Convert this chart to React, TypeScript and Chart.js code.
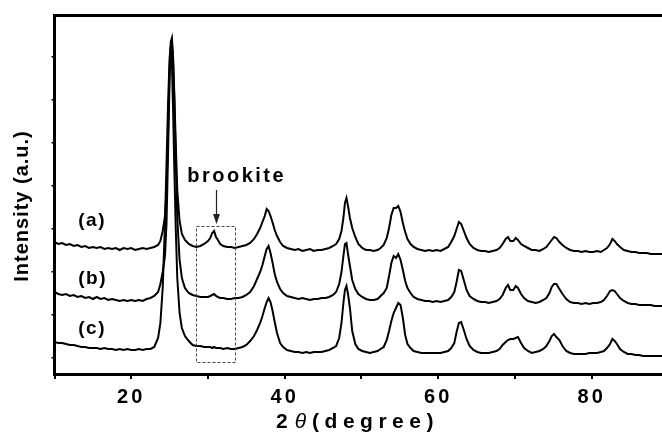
import React, { useEffect, useRef } from "react";
import { Chart, registerables } from "chart.js";

Chart.register(...registerables);

// 2θ positions (degrees) shared by all three patterns
const twoTheta = [
  10, 10.5, 11, 11.5, 12, 12.5, 13, 13.5, 14, 14.5, 15, 15.5, 16, 16.5, 17, 17.5, 18, 18.5, 19, 19.5, 20, 20.5, 21, 21.5, 22, 22.5, 23, 23.5,
  23.8, 24.1, 24.4, 24.6, 24.8, 25.0, 25.15, 25.3, 25.45, 25.6, 25.8, 26.0, 26.3, 26.6, 27.0, 27.5,
  28, 28.5, 29, 29.5, 30, 30.3, 30.55, 30.8, 31.05, 31.3, 31.6, 32, 32.5, 33, 33.5, 34, 34.5, 35, 35.5, 36, 36.4,
  36.8, 37.1, 37.4, 37.65, 37.9, 38.15, 38.4, 38.7, 39.0, 39.4, 39.8, 40.3,
  40.8, 41.3, 41.8, 42.3, 42.8, 43.3, 43.8, 44.3, 44.8, 45.3, 45.8, 46.3,
  46.7, 47.1, 47.4, 47.65, 47.85, 48.05, 48.25, 48.5, 48.8, 49.2, 49.6, 50.1,
  50.6, 51.1, 51.6, 52.1, 52.5,
  52.9, 53.3, 53.6, 53.9, 54.2, 54.5, 54.8, 55.1, 55.4, 55.7, 56.0, 56.4, 56.8,
  57.3, 57.8, 58.3, 58.8, 59.3, 59.8, 60.3, 60.8,
  61.3, 61.7, 62.1, 62.4, 62.7, 63.0, 63.3, 63.7, 64.1, 64.6,
  65.1, 65.6, 66.1, 66.6, 67.1, 67.6,
  68.0, 68.4, 68.8, 69.1, 69.4, 69.8, 70.1, 70.4, 70.8, 71.2, 71.7,
  72.2, 72.7, 73.2, 73.7,
  74.1, 74.5, 74.8, 75.1, 75.4, 75.8, 76.2, 76.7, 77.2,
  77.7, 78.2, 78.7, 79.2, 79.7, 80.2, 80.7, 81.2, 81.6,
  82.0, 82.4, 82.7, 83.0, 83.3, 83.7, 84.2, 84.7,
  85.2, 85.7, 86.2, 86.7, 87.2, 87.7, 88.2, 88.7, 89.2,
];

// pattern (a) (offset trace, arbitrary units)
const intensityA = [
  116, 114, 115, 113, 114, 112, 113, 111, 112, 110, 111, 110, 111, 109, 110, 109, 110, 108, 110, 109, 110, 108, 109, 110, 109, 110, 111, 113,
  117, 127, 142, 168, 225, 290, 316, 320, 302, 268, 215, 168, 137, 124, 118, 114,
  112, 111, 112, 114, 117, 120, 125, 127, 121, 118, 114, 112, 111, 111, 110, 111, 112, 113, 115, 119, 124,
  130, 136, 142, 149, 147, 142, 136, 128, 122, 116, 112, 110,
  109, 108, 109, 107, 108, 109, 107, 108, 108, 109, 110, 112,
  114, 119, 127, 140, 155, 160, 152, 140, 130, 121, 114, 110,
  108, 108, 107, 108, 110,
  113, 120, 130, 143, 150, 150, 152, 146, 135, 126, 119, 114, 111,
  109, 108, 107, 108, 107, 108, 107, 109,
  111, 116, 122, 129, 136, 134, 128, 120, 114, 110,
  108, 107, 107, 106, 107, 108,
  110, 114, 119, 121, 117, 117, 120, 118, 114, 112, 110,
  108, 108, 107, 109,
  111, 115, 118, 121, 120, 116, 113, 110, 108,
  107, 107, 106, 107, 106, 106, 107, 106, 108,
  110, 114, 119, 117, 114, 111, 108, 107,
  106, 106, 105, 105, 105, 104, 104, 104, 104,
];

// pattern (b)
const intensityB = [
  66, 64, 63, 64, 62, 63, 61, 62, 60, 61, 59, 61, 59, 60, 58, 59, 58, 57, 58, 57, 58, 57, 58, 57, 59, 60, 62, 66,
  74, 86, 102, 135, 205, 280, 310, 315, 298, 262, 200, 140, 98, 80, 70, 65,
  63, 62, 61, 61, 61, 62, 63, 64, 62, 61, 60, 60, 59, 59, 60, 60, 61, 63, 66, 72, 79,
  86, 93, 102, 109, 112, 105, 96, 84, 76, 69, 65, 62,
  61, 60, 59, 60, 59, 58, 59, 59, 60, 60, 61, 63,
  66, 74, 86, 102, 114, 115, 104, 92, 78, 69, 64, 61,
  59, 58, 58, 59, 62,
  65, 70, 82, 95, 102, 100, 104, 98, 88, 77, 70, 65, 61,
  59, 58, 57, 57, 56, 57, 56, 57,
  58, 61, 66, 76, 88, 87, 79, 68, 62, 59,
  57, 56, 56, 55, 56, 57,
  59, 63, 70, 73, 68, 68, 72, 70, 64, 60, 57,
  56, 55, 56, 58,
  60, 65, 71, 74, 74, 69, 64, 59, 56,
  55, 55, 54, 55, 54, 55, 55, 56, 58,
  62, 67, 68, 67, 64, 60, 57, 55,
  54, 54, 53, 53, 53, 53, 52, 52, 52,
];

// pattern (c)
const intensityC = [
  16, 15, 15, 14, 13, 13, 12, 11, 11, 10, 10, 10, 9, 10, 9, 9, 8, 9, 8, 9, 8, 8, 9, 8, 9, 9, 11, 20,
  35, 70, 135, 195, 255, 300, 312, 295, 250, 195, 130, 80, 45, 30, 22, 17,
  13, 12, 12, 11, 11, 11, 10, 11, 10, 10, 10, 9, 10, 9, 9, 10, 11, 13, 17, 22, 28,
  35, 42, 50, 56, 60, 56, 48, 36, 25, 15, 11, 8,
  7, 6, 6, 5, 6, 5, 6, 6, 6, 7, 8, 10,
  12, 20, 35, 55, 68, 72, 64, 50, 27, 14, 9, 7,
  6, 5, 6, 7, 9,
  11, 18, 27, 37, 45, 50, 55, 53, 40, 23, 14, 10, 7,
  6, 5, 5, 5, 5, 5, 5, 6,
  7, 10, 15, 26, 35, 36, 29, 19, 12, 8,
  6, 5, 5, 5, 6, 7,
  9, 13, 16, 18, 19, 19, 20, 21, 15, 10, 7,
  5, 6, 7, 9,
  12, 17, 22, 24, 21, 18, 12, 7, 5,
  4, 4, 4, 4, 5, 5, 5, 6, 7,
  10, 14, 19, 17, 14, 9, 6, 4,
  4, 3, 3, 2, 2, 2, 2, 2, 2,
];

const seriesLabels = ["(a)", "(b)", "(c)"];
const seriesLabelLevels = [137, 79.5, 29]; // intensity level where each label sits
const seriesLabelAngle = 13.1; // 2θ where labels start

const xTickLabels = [20, 40, 60, 80];
const xTitleParts = ["2", "θ", "(degree)"];
const yTitle = "Intensity (a.u.)";

const brookiteText = "brookite";
const brookiteBox = { from: 28.4, to: 33.55, low: -4, high: 132 };
const brookiteArrow = { at: 31.05, from: 168, to: 134 };
const brookiteTextAnchor = { at: 27.3, level: 176.5 };

const FONT = '"Liberation Sans", Arial, Helvetica, sans-serif';

const overlayPlugin = {
  id: "overlay",
  beforeDraw(chart: any) {
    (chart.ctx as any).letterSpacing = "3px";
  },
  afterDraw(chart: any) {
    const { ctx, chartArea } = chart;
    const x = chart.scales.x;
    const y = chart.scales.y;
    ctx.save();
    (ctx as any).letterSpacing = "0px";

    // top frame line
    ctx.strokeStyle = "#000";
    ctx.lineWidth = 3;
    ctx.beginPath();
    ctx.moveTo(chartArea.left - 1.5, chartArea.top);
    ctx.lineTo(chartArea.right, chartArea.top);
    ctx.stroke();

    // dashed box
    ctx.strokeStyle = "#444";
    ctx.lineWidth = 1;
    ctx.setLineDash([3, 2]);
    const bx0 = Math.round(x.getPixelForValue(brookiteBox.from)) + 0.5;
    const bx1 = Math.round(x.getPixelForValue(brookiteBox.to)) + 0.5;
    const by0 = Math.round(y.getPixelForValue(brookiteBox.high)) + 0.5;
    const by1 = Math.round(y.getPixelForValue(brookiteBox.low)) + 0.5;
    ctx.strokeRect(bx0, by0, bx1 - bx0, by1 - by0);
    ctx.setLineDash([]);

    // arrow
    const ax = Math.round(x.getPixelForValue(brookiteArrow.at)) + 0.5;
    const ay0 = y.getPixelForValue(brookiteArrow.from);
    const ay1 = y.getPixelForValue(brookiteArrow.to);
    ctx.strokeStyle = "#222";
    ctx.fillStyle = "#222";
    ctx.lineWidth = 1.2;
    ctx.beginPath();
    ctx.moveTo(ax, ay0);
    ctx.lineTo(ax, ay1 - 8);
    ctx.stroke();
    ctx.beginPath();
    ctx.moveTo(ax, ay1);
    ctx.lineTo(ax - 3.5, ay1 - 10);
    ctx.lineTo(ax + 3.5, ay1 - 10);
    ctx.closePath();
    ctx.fill();

    // brookite label
    ctx.fillStyle = "#000";
    ctx.font = `bold 20px ${FONT}`;
    (ctx as any).letterSpacing = "2.5px";
    ctx.textAlign = "left";
    ctx.textBaseline = "alphabetic";
    ctx.fillText(brookiteText, x.getPixelForValue(brookiteTextAnchor.at), y.getPixelForValue(brookiteTextAnchor.level));

    // series labels
    ctx.font = `bold 19px ${FONT}`;
    (ctx as any).letterSpacing = "1.5px";
    ctx.textBaseline = "middle";
    seriesLabels.forEach((lab, i) => {
      ctx.fillText(lab, x.getPixelForValue(seriesLabelAngle), y.getPixelForValue(seriesLabelLevels[i]));
    });

    // x title: 2θ (degree)
    ctx.textBaseline = "alphabetic";
    const base = 428;
    let cx = 276;
    ctx.font = `bold 21px ${FONT}`;
    (ctx as any).letterSpacing = "0px";
    ctx.fillText(xTitleParts[0], cx, base);
    cx += ctx.measureText(xTitleParts[0]).width + 7;
    ctx.font = `italic 21px ${FONT}`;
    ctx.fillText(xTitleParts[1], cx, base);
    cx += ctx.measureText(xTitleParts[1]).width + 6;
    ctx.font = `bold 21px ${FONT}`;
    (ctx as any).letterSpacing = "5.5px";
    ctx.fillText(xTitleParts[2], cx, base);

    // y title
    ctx.save();
    ctx.translate(28, 206);
    ctx.rotate(-Math.PI / 2);
    ctx.font = `bold 20px ${FONT}`;
    (ctx as any).letterSpacing = "1px";
    ctx.textAlign = "center";
    ctx.textBaseline = "alphabetic";
    ctx.fillText(yTitle, 0, 0);
    ctx.restore();

    ctx.restore();
  },
};

export default function App() {
  const ref = useRef<HTMLCanvasElement | null>(null);

  useEffect(() => {
    if (!ref.current) return;
    const mk = (vals: number[]) => twoTheta.map((t, i) => ({ x: t, y: vals[i] }));
    const ds = (label: string, vals: number[]) => ({
      label,
      data: mk(vals),
      borderColor: "#000",
      borderWidth: 2,
      pointRadius: 0,
      fill: false,
      tension: 0,
    });
    const chart = new Chart(ref.current, {
      type: "line",
      data: {
        datasets: [ds(seriesLabels[0], intensityA), ds(seriesLabels[1], intensityB), ds(seriesLabels[2], intensityC)],
      },
      options: {
        animation: false,
        responsive: false,
        maintainAspectRatio: false,
        layout: { padding: { top: 15.5, left: 0, right: 0, bottom: 0 } },
        plugins: { legend: { display: false }, tooltip: { enabled: false } },
        scales: {
          x: {
            type: "linear",
            min: 10,
            max: 89.17,
            ticks: {
              stepSize: 10,
              includeBounds: false,
              autoSkip: false,
              maxRotation: 0,
              color: "#000",
              padding: 6,
              font: { family: FONT, size: 20, weight: "bold" },
              callback: (v: any) => (xTickLabels.includes(Number(v)) ? String(v) : ""),
            },
            grid: { display: true, drawOnChartArea: false, drawTicks: true, tickLength: 5, color: "#000", lineWidth: 2 },
            border: { display: true, color: "#000", width: 3 },
            afterFit: (s: any) => {
              s.height = 59;
            },
          },
          y: {
            type: "linear",
            min: -16,
            max: 342.5,
            ticks: { display: false, stepSize: 43, includeBounds: false },
            grid: { display: true, drawOnChartArea: false, drawTicks: true, tickLength: 3, color: "#000", lineWidth: 1.5 },
            border: { display: true, color: "#000", width: 3 },
            afterFit: (s: any) => {
              s.width = 54.5;
            },
          },
        },
      } as any,
      plugins: [overlayPlugin],
    });
    return () => chart.destroy();
  }, []);

  return (
    <div style={{ position: "fixed", left: 0, top: 0, width: 662, height: 433, background: "#fff" }}>
      <canvas ref={ref} width={662} height={433} style={{ width: 662, height: 433, display: "block" }} />
    </div>
  );
}
